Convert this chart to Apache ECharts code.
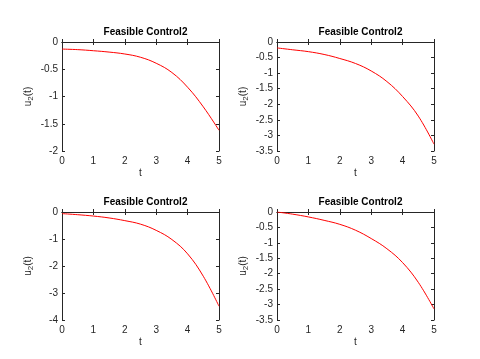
<!DOCTYPE html>
<html>
<head>
<meta charset="utf-8">
<script src="https://cdn.jsdelivr.net/npm/echarts@6/dist/echarts.min.js"></script>
<style>
    html, body { margin: 0; padding: 0; background: #fff; }
    #chart { width: 480px; height: 359px; }
</style>
</head>
<body>
<div id="chart"></div>
<script>
// time samples shared by all four panels
const tValues = [0, 0.5, 1, 1.5, 2, 2.5, 3, 3.5, 4, 4.5, 5];

// u2(t)
const u2TopLeft = [-0.13, -0.14, -0.16, -0.185, -0.22, -0.28, -0.39, -0.56, -0.83, -1.19, -1.62];
const u2TopRight = [-0.19, -0.25, -0.31, -0.40, -0.53, -0.69, -0.93, -1.27, -1.75, -2.38, -3.28];
const u2BottomLeft = [-0.06, -0.10, -0.15, -0.22, -0.32, -0.45, -0.68, -1.02, -1.55, -2.38, -3.49];
const u2BottomRight = [0, -0.07, -0.16, -0.27, -0.40, -0.59, -0.86, -1.19, -1.64, -2.28, -3.14];

// y axis ranges: [min, max, interval]
const yRanges = [
    [-2, 0, 0.5],
    [-3.5, 0, 0.5],
    [-4, 0, 1],
    [-3.5, 0, 0.5]
];

const panelTitle = "Feasible Control2";
const axisColor = "#262626";
const fontFamily = "Liberation Sans, Arial, sans-serif";

const panels = [
    { left: 62, top: 42, width: 157, height: 109, values: u2TopLeft },
    { left: 277, top: 42, width: 157, height: 109, values: u2TopRight },
    { left: 62, top: 212, width: 157, height: 108, values: u2BottomLeft },
    { left: 277, top: 212, width: 157, height: 108, values: u2BottomRight }
];

const grids = [];
const xAxes = [];
const yAxes = [];
const series = [];
const titles = [];

panels.forEach((p, i) => {
    grids.push({ left: p.left, top: p.top, width: p.width, height: p.height });

    titles.push({
        text: panelTitle,
        left: p.left + p.width / 2,
        top: p.top - 20,
        textAlign: "center",
        textStyle: { fontSize: 10, fontWeight: "bold", color: "#000", fontFamily: fontFamily }
    });

    const lineStyle = { color: axisColor, width: 1 };
    // bottom x axis
    xAxes.push({
        gridIndex: i,
        type: "value",
        min: 0,
        max: 5,
        interval: 1,
        position: "bottom",
        name: "t",
        nameLocation: "middle",
        nameGap: 17,
        nameTextStyle: { fontSize: 10, color: axisColor, fontFamily: fontFamily },
        axisLine: { show: true, lineStyle: lineStyle },
        axisTick: { inside: true, length: 3, lineStyle: lineStyle },
        axisLabel: { fontSize: 10, color: axisColor, margin: 5, fontFamily: fontFamily },
        splitLine: { show: false }
    });
    // top mirror
    xAxes.push({
        gridIndex: i,
        type: "value",
        min: 0,
        max: 5,
        interval: 1,
        position: "top",
        axisLine: { show: true, lineStyle: lineStyle },
        axisTick: { inside: true, length: 3, lineStyle: lineStyle },
        axisLabel: { show: false },
        splitLine: { show: false }
    });

    const r = yRanges[i];
    yAxes.push({
        gridIndex: i,
        type: "value",
        min: r[0],
        max: r[1],
        interval: r[2],
        position: "left",
        name: "u{sub|2}(t)",
        nameLocation: "middle",
        nameGap: 27,
        nameRotate: 90,
        nameTextStyle: {
            fontSize: 10,
            color: axisColor,
            fontFamily: fontFamily,
            rich: {
                sub: { fontSize: 8, color: axisColor, fontFamily: fontFamily, verticalAlign: "bottom", padding: [6, 0, 0, 0] }
            }
        },
        axisLine: { show: true, onZero: false, lineStyle: lineStyle },
        axisTick: { inside: true, length: 3, lineStyle: lineStyle },
        axisLabel: { fontSize: 10, color: axisColor, margin: 4, fontFamily: fontFamily },
        splitLine: { show: false }
    });
    yAxes.push({
        gridIndex: i,
        type: "value",
        min: r[0],
        max: r[1],
        interval: r[2],
        position: "right",
        axisLine: { show: true, onZero: false, lineStyle: lineStyle },
        axisTick: { inside: true, length: 3, lineStyle: lineStyle },
        axisLabel: { show: false },
        splitLine: { show: false }
    });

    series.push({
        type: "line",
        xAxisIndex: i * 2,
        yAxisIndex: i * 2,
        smooth: 0.4,
        showSymbol: false,
        animation: false,
        lineStyle: { color: "#ff0000", width: 1 },
        data: tValues.map((t, k) => [t, p.values[k]])
    });
});

const chart = echarts.init(document.getElementById("chart"));
chart.setOption({
    animation: false,
    backgroundColor: "#fff",
    title: titles,
    grid: grids,
    xAxis: xAxes,
    yAxis: yAxes,
    series: series
});
</script>
</body>
</html>
